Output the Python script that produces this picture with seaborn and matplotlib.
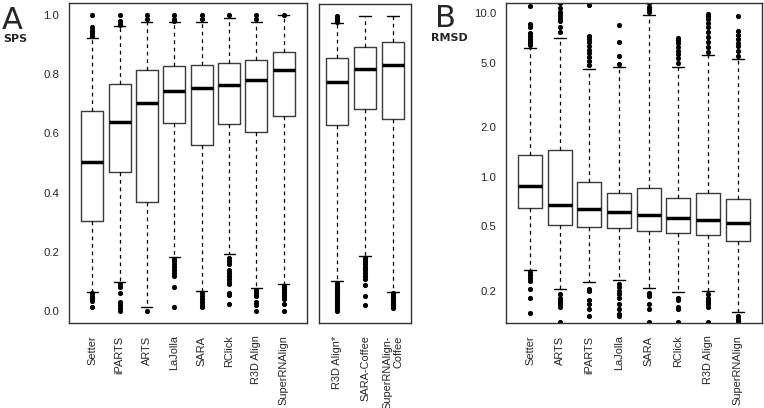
import matplotlib
matplotlib.use("Agg")
import matplotlib.pyplot as plt
import seaborn as sns

# --- Panel A (SPS), main methods
sps_methods = ["Setter", "iPARTS", "ARTS", "LaJolla", "SARA", "RClick", "R3D Align", "SuperRNAlign"]
sps_med = [0.505, 0.640, 0.702, 0.743, 0.752, 0.762, 0.780, 0.815]
sps_q1 = [0.304, 0.468, 0.368, 0.635, 0.561, 0.631, 0.604, 0.660]
sps_q3 = [0.676, 0.765, 0.813, 0.826, 0.830, 0.837, 0.847, 0.875]
sps_lo = [0.063, 0.098, 0.013, 0.183, 0.067, 0.193, 0.077, 0.092]
sps_hi = [0.923, 0.962, 0.975, 0.975, 0.975, 0.988, 0.975, 0.998]
sps_out = [
    [1.0, 0.96, 0.95, 0.945, 0.94, 0.93, 0.06, 0.05, 0.045, 0.04, 0.035, 0.015],
    [1.0, 0.98, 0.975, 0.965, 0.09, 0.08, 0.06, 0.03, 0.02, 0.01, 0.0],
    [1.0, 0.985, 0.0],
    [1.0, 0.985, 0.98, 0.175, 0.17, 0.16, 0.15, 0.14, 0.13, 0.12, 0.08, 0.015],
    [1.0, 0.985, 0.06, 0.05, 0.04, 0.03, 0.02, 0.015],
    [1.0, 0.18, 0.17, 0.16, 0.14, 0.13, 0.12, 0.11, 0.1, 0.09, 0.06, 0.055, 0.025],
    [1.0, 0.985, 0.07, 0.06, 0.055, 0.05, 0.03, 0.02, 0.0],
    [1.0, 0.085, 0.08, 0.075, 0.07, 0.065, 0.06, 0.055, 0.05, 0.045, 0.04, 0.025, 0.0],
]

# --- Panel A (SPS), combined methods
comb_methods = ["R3D Align*", "SARA-Coffee", "SuperRNAlign-\nCoffee"]
comb_med = [0.775, 0.819, 0.834]
comb_q1 = [0.631, 0.683, 0.650]
comb_q3 = [0.856, 0.895, 0.910]
comb_lo = [0.101, 0.186, 0.065]
comb_hi = [0.974, 1.0, 1.0]
comb_out = [
    [1.0, 0.995, 0.99, 0.985, 0.98, 0.095, 0.09, 0.085, 0.08, 0.075, 0.07, 0.065, 0.06,
     0.055, 0.05, 0.045, 0.04, 0.035, 0.03, 0.025, 0.02, 0.015, 0.01, 0.005, 0.0],
    [0.18, 0.175, 0.17, 0.165, 0.16, 0.15, 0.145, 0.14, 0.13, 0.12, 0.11, 0.09, 0.05, 0.02],
    [0.06, 0.055, 0.05, 0.045, 0.04, 0.035, 0.03, 0.025, 0.02, 0.015, 0.01],
]

# --- Panel B (RMSD)
rmsd_methods = ["Setter", "ARTS", "iPARTS", "LaJolla", "SARA", "RClick", "R3D Align", "SuperRNAlign"]
rmsd_med = [0.881, 0.674, 0.634, 0.611, 0.583, 0.556, 0.543, 0.519]
rmsd_q1 = [0.641, 0.504, 0.495, 0.483, 0.467, 0.454, 0.440, 0.404]
rmsd_q3 = [1.358, 1.460, 0.932, 0.798, 0.849, 0.738, 0.798, 0.727]
rmsd_lo = [0.269, 0.205, 0.226, 0.232, 0.208, 0.198, 0.200, 0.149]
rmsd_hi = [6.16, 7.03, 4.58, 4.67, 9.77, 4.71, 5.56, 5.23]
rmsd_out = [
    [11.1, 8.6, 8.3, 7.6, 7.3, 7.0, 6.8, 6.6, 6.4, 0.26, 0.25, 0.24, 0.23, 0.205, 0.18, 0.147],
    [11.5, 10.8, 10.2, 9.8, 9.4, 9.0, 8.2, 7.7, 0.19, 0.18, 0.175, 0.17, 0.165, 0.16, 0.128],
    [11.2, 7.3, 7.0, 6.7, 6.3, 6.0, 5.7, 5.4, 5.1, 4.8, 0.205, 0.2, 0.175, 0.165, 0.155, 0.14],
    [8.5, 6.7, 5.5, 4.9, 0.22, 0.21, 0.2, 0.19, 0.18, 0.165, 0.155, 0.145, 0.14],
    [11.5, 11.0, 10.6, 10.2, 0.195, 0.19, 0.185, 0.165, 0.155, 0.128],
    [7.1, 6.9, 6.6, 6.2, 5.9, 5.6, 5.3, 5.0, 0.18, 0.175, 0.16, 0.155, 0.128],
    [9.9, 9.6, 9.2, 8.7, 8.2, 7.7, 7.2, 6.7, 6.2, 5.8, 0.19, 0.18, 0.175, 0.17, 0.165, 0.16, 0.128],
    [9.6, 7.8, 7.4, 7.0, 6.6, 6.3, 5.9, 5.5, 0.14, 0.135, 0.13],
]

sns.set_style("white")
plt.rcParams["font.family"] = ["Liberation Sans", "DejaVu Sans"]

W, H = 764, 408
fig = plt.figure(figsize=(W / 100, H / 100), dpi=100)


def px_axes(left, top, right, bottom):
    return fig.add_axes([left / W, 1 - bottom / H, (right - left) / W, (bottom - top) / H])


def draw_boxes(ax, labels, med, q1, q3, lo, hi, out):
    stats = []
    for i in range(len(labels)):
        stats.append(dict(med=med[i], q1=q1[i], q3=q3[i], whislo=lo[i], whishi=hi[i],
                          fliers=out[i], label=labels[i]))
    n = len(labels)
    ax.bxp(stats, positions=range(1, n + 1), widths=0.8, capwidths=0.4,
           patch_artist=False, manage_ticks=False,
           boxprops=dict(color="#3a3a3a", linewidth=1.0),
           medianprops=dict(color="black", linewidth=2.5, solid_capstyle="butt"),
           whiskerprops=dict(color="black", linewidth=0.9, linestyle=(0, (3, 3))),
           capprops=dict(color="black", linewidth=1.0),
           flierprops=dict(marker="o", markersize=2.7, markerfacecolor="black",
                           markeredgecolor="black", linestyle="none"))
    ax.set_xticks(range(1, n + 1))
    ax.set_xticklabels(labels, rotation=90, va="top", ha="center", fontsize=7.9,
                       multialignment="right")
    for s in ax.spines.values():
        s.set_visible(True)
        s.set_color("#333333")
        s.set_linewidth(1.0)
    ax.tick_params(axis="x", length=5, width=0.8, color="#666666", pad=4)
    ax.tick_params(axis="y", length=4, width=0.8, color="#666666", labelsize=8.2, pad=3)


# Panel A, left
ax1 = px_axes(69, 3, 307, 323)
draw_boxes(ax1, sps_methods, sps_med, sps_q1, sps_q3, sps_lo, sps_hi, sps_out)
ax1.set_xlim(0.15, 8.85)
ax1.set_ylim(-0.04, 1.04)
ax1.set_yticks([0.0, 0.2, 0.4, 0.6, 0.8, 1.0])
ax1.set_yticklabels(["0.0", "0.2", "0.4", "0.6", "0.8", "1.0"])

# Panel A, right
ax2 = px_axes(319, 4, 411, 323)
draw_boxes(ax2, comb_methods, comb_med, comb_q1, comb_q3, comb_lo, comb_hi, comb_out)
ax2.set_xlim(0.36, 3.64)
ax2.set_ylim(-0.04, 1.04)
ax2.set_yticks([])

# Panel B
ax3 = px_axes(506, 3, 762, 323)
draw_boxes(ax3, rmsd_methods, rmsd_med, rmsd_q1, rmsd_q3, rmsd_lo, rmsd_hi, rmsd_out)
ax3.set_yscale("log")
ax3.set_xlim(0.19, 8.82)
ax3.set_ylim(0.127, 11.57)
ax3.set_yticks([0.2, 0.5, 1.0, 2.0, 5.0, 10.0])
ax3.set_yticklabels(["0.2", "0.5", "1.0", "2.0", "5.0", "10.0"])
ax3.minorticks_off()

# Panel letters and titles
fig.text(2 / W, 1 - 29 / H, "A", fontsize=22, family="DejaVu Sans", va="baseline")
fig.text(15 / W, 1 - 39 / H, "SPS", fontsize=8, weight="bold", family="DejaVu Sans",
         ha="center", va="center")
fig.text(435 / W, 1 - 27 / H, "B", fontsize=22, family="DejaVu Sans", va="baseline")
fig.text(449 / W, 1 - 38 / H, "RMSD", fontsize=8, weight="bold", family="DejaVu Sans",
         ha="center", va="center")

plt.savefig("out.png", dpi=100)
plt.close()
